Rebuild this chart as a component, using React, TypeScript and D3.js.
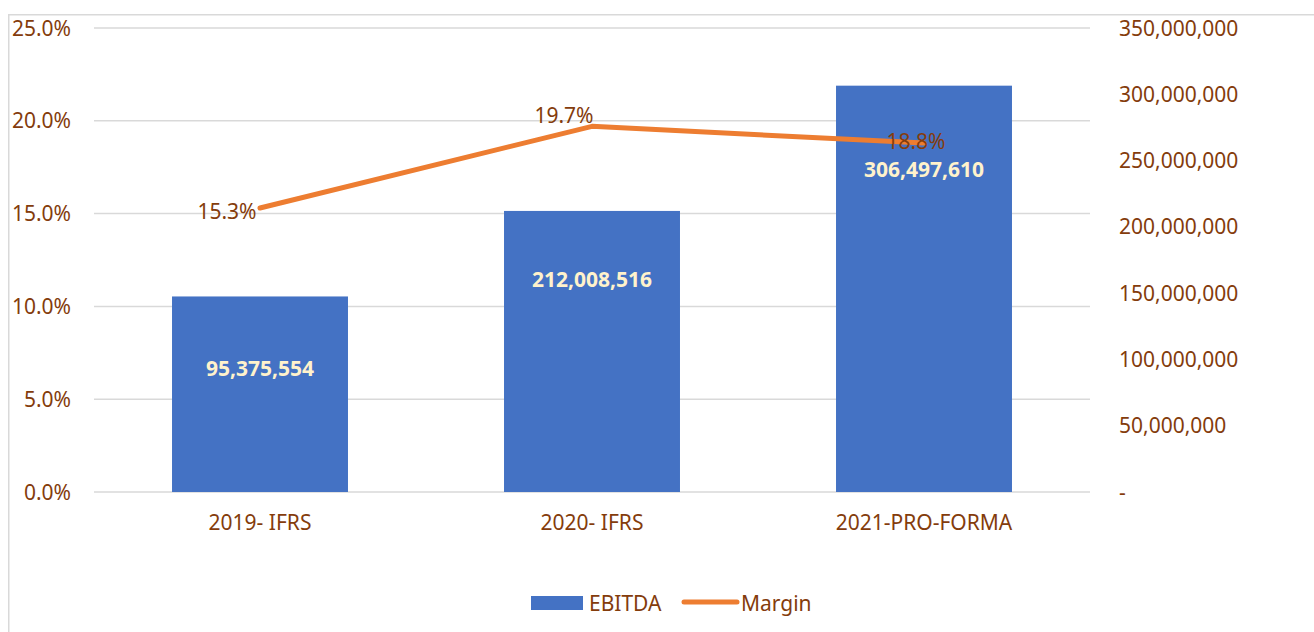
import React, { useEffect, useRef } from 'react';
import * as d3 from 'd3';

const categories = ['2019- IFRS', '2020- IFRS', '2021-PRO-FORMA'];
// bar heights as drawn (right axis units) and the labels printed on them
const ebitda = [147500000, 212008516, 306497610];
const ebitdaLabels = ['95,375,554', '212,008,516', '306,497,610'];
const ebitdaLabelAt = [93500000, 160000000, 243500000];
const margin = [15.3, 19.7, 18.8];
const leftTicks = [0, 5, 10, 15, 20, 25];
const rightTicks = [0, 50000000, 100000000, 150000000, 200000000, 250000000, 300000000, 350000000];

const W = 1314, H = 632;
const BROWN = '#843C0C';
const FONT = '"Noto Sans", "Open Sans", sans-serif';
const FS = '21px';

const App = () => {
  const svgRef = useRef<SVGSVGElement>(null);

  useEffect(() => {
    const svg = d3.select(svgRef.current);
    svg.selectAll('*').remove();

    const plot = { left: 94, right: 1090, top: 28, bottom: 492 };
    const x = d3.scaleBand().domain(categories).range([plot.left, plot.right]).paddingInner(0.47).paddingOuter(0.235);
    const yL = d3.scaleLinear().domain([0, 25]).range([plot.bottom, plot.top]);
    const yR = d3.scaleLinear().domain([0, 350000000]).range([plot.bottom, plot.top]);

    svg.append('rect').attr('x', 8.75).attr('y', 14.75).attr('width', W).attr('height', H)
      .attr('fill', 'white').attr('stroke', '#d9d9d9').attr('stroke-width', 1.5);

    // gridlines
    svg.append('g').selectAll('line').data(leftTicks).join('line')
      .attr('x1', plot.left).attr('x2', plot.right)
      .attr('y1', d => yL(d)).attr('y2', d => yL(d))
      .attr('stroke', '#d9d9d9').attr('stroke-width', 1.5);

    // left axis labels
    svg.append('g').selectAll('text').data(leftTicks).join('text')
      .attr('x', 71).attr('y', d => yL(d) + 7.5)
      .attr('text-anchor', 'end').attr('fill', BROWN)
      .style('font-family', FONT).style('font-size', FS)
      .text(d => d3.format('.1f')(d) + '%');

    // right axis labels
    svg.append('g').selectAll('text').data(rightTicks).join('text')
      .attr('x', 1119).attr('y', d => yR(d) + 7.5)
      .attr('text-anchor', 'start').attr('fill', BROWN)
      .style('font-family', FONT).style('font-size', FS)
      .text(d => d === 0 ? '-' : d3.format(',')(d));

    // bars
    svg.append('g').selectAll('rect').data(ebitda).join('rect')
      .attr('x', (d, i) => x(categories[i])!)
      .attr('width', x.bandwidth())
      .attr('y', d => yR(d))
      .attr('height', d => plot.bottom - yR(d))
      .attr('fill', '#4472C4');

    svg.append('g').selectAll('text').data(ebitdaLabels).join('text')
      .attr('x', (d, i) => x(categories[i])! + x.bandwidth() / 2)
      .attr('y', (d, i) => yR(ebitdaLabelAt[i]) + 7.5)
      .attr('text-anchor', 'middle').attr('fill', '#FFF2CC')
      .style('font-family', FONT).style('font-size', FS).style('font-weight', 'bold')
      .text(d => d);

    // category labels
    svg.append('g').selectAll('text').data(categories).join('text')
      .attr('x', d => x(d)! + x.bandwidth() / 2).attr('y', 530)
      .attr('text-anchor', 'middle').attr('fill', BROWN)
      .style('font-family', FONT).style('font-size', FS)
      .text(d => d);

    // margin line
    const line = d3.line<number>()
      .x((d, i) => x(categories[i])! + x.bandwidth() / 2)
      .y(d => yL(d));
    svg.append('path').datum(margin).attr('d', line)
      .attr('fill', 'none').attr('stroke', '#ED7D31').attr('stroke-width', 5)
      .attr('stroke-linecap', 'round').attr('stroke-linejoin', 'round');

    const lblDx = [-33, -28, -8];
    const lblDy = [11, -3, 6];
    svg.append('g').selectAll('text').data(margin).join('text')
      .attr('x', (d, i) => x(categories[i])! + x.bandwidth() / 2 + lblDx[i])
      .attr('y', (d, i) => yL(d) + lblDy[i])
      .attr('text-anchor', 'middle').attr('fill', BROWN)
      .style('font-family', FONT).style('font-size', FS)
      .text(d => d.toFixed(1) + '%');

    // legend
    const lg = svg.append('g');
    lg.append('rect').attr('x', 531).attr('y', 596).attr('width', 52).attr('height', 14).attr('fill', '#4472C4');
    lg.append('text').attr('x', 589).attr('y', 611).attr('fill', BROWN)
      .style('font-family', FONT).style('font-size', FS).text('EBITDA');
    lg.append('line').attr('x1', 684).attr('x2', 737).attr('y1', 602).attr('y2', 602)
      .attr('stroke', '#ED7D31').attr('stroke-width', 5).attr('stroke-linecap', 'round');
    lg.append('text').attr('x', 741).attr('y', 611).attr('fill', BROWN)
      .style('font-family', FONT).style('font-size', FS).text('Margin');
  }, []);

  return (
    <div style={{ position: 'absolute', left: 0, top: 0 }}>
      <svg ref={svgRef} width={W} height={H} style={{ display: 'block' }}></svg>
    </div>
  );
};

export default App;
